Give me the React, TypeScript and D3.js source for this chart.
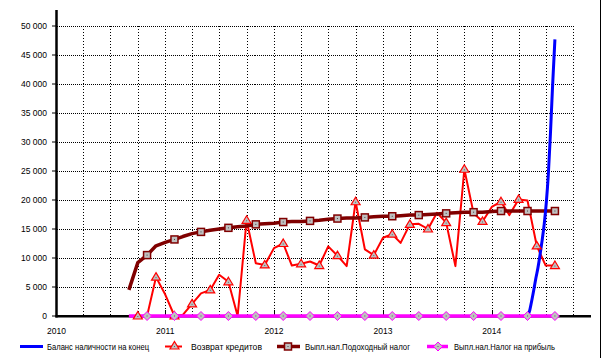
import React from 'react';
import * as d3 from 'd3';

const months = [
  "2010-09","2010-10","2010-11","2010-12",
  "2011-01","2011-02","2011-03","2011-04","2011-05","2011-06","2011-07","2011-08","2011-09","2011-10","2011-11","2011-12",
  "2012-01","2012-02","2012-03","2012-04","2012-05","2012-06","2012-07","2012-08","2012-09","2012-10","2012-11","2012-12",
  "2013-01","2013-02","2013-03","2013-04","2013-05","2013-06","2013-07","2013-08","2013-09","2013-10","2013-11","2013-12",
  "2014-01","2014-02","2014-03","2014-04","2014-05","2014-06","2014-07","2014-08"
];

const creditReturn = [
  0, 0, 0, 6700,
  3700, 0, 200, 2100, 3900, 4500, 7100, 5900, 0, 16500, 9100, 8800,
  11700, 12500, 8700, 9000, 9400, 8700, 12000, 10400, 8600, 19700, 11500, 10500,
  13500, 14100, 12600, 15800, 15900, 15000, 17800, 16100, 8600, 25300, 17700, 16300,
  18800, 19700, 17400, 20100, 19900, 12100, 8700, 8700
];

const incomeTax = [
  4500, 9200, 10500, 12100,
  12700, 13200, 13700, 14200, 14500, 14800, 15000, 15200, 15400, 15500, 15800, 15900,
  16000, 16200, 16300, 16300, 16400, 16500, 16700, 16800, 16900, 16900, 17000, 17100,
  17200, 17200, 17300, 17400, 17400, 17500, 17600, 17700, 17800, 17900, 17900, 17900,
  18000, 18100, 18100, 18100, 18100, 18100, 18100, 18100
];

const profitTax = [
  0, 0, 0, 0,
  0, 0, 0, 0, 0, 0, 0, 0, 0, 0, 0, 0,
  0, 0, 0, 0, 0, 0, 0, 0, 0, 0, 0, 0,
  0, 0, 0, 0, 0, 0, 0, 0, 0, 0, 0, 0,
  0, 0, 0, 0, 0, 0, 0, 0
];

const balanceDates = [
  "2014-05-01","2014-05-08","2014-05-15","2014-05-22","2014-05-29","2014-06-05","2014-06-12",
  "2014-06-19","2014-06-26","2014-07-03","2014-07-10","2014-07-17","2014-07-24","2014-08-01"
];
const balanceValues = [0, 900, 2600, 4500, 6500, 8300, 10500, 13000, 15800, 19500, 24500, 31500, 39500, 47700];

const yTicks = [0, 5000, 10000, 15000, 20000, 25000, 30000, 35000, 40000, 45000, 50000];
const yearLabels = ["2010", "2011", "2012", "2013", "2014"];
const legendLabels = [
  "Баланс наличности на конец",
  "Возврат кредитов",
  "Выпл.нал.Подоходный налог",
  "Выпл.нал.Налог на прибыль"
];

const W = 601, H = 358;
const X0 = 56.5, YEAR = 108.8;
const FONT = "'Liberation Sans', Arial, sans-serif";

const parseM = d3.timeParse("%Y-%m");
const parseD = d3.timeParse("%Y-%m-%d");

const x = d3.scaleTime()
  .domain([new Date(2010, 0, 1), new Date(2015, 0, 1)])
  .range([X0, X0 + 5 * YEAR]);
const y = d3.scaleLinear().domain([0, 50000]).range([316, 26]);

const fmt = d3.formatLocale({ thousands: "\u00a0", grouping: [3], decimal: ",", currency: ["", ""] }).format(",");

type P = { date: Date; v: number };
const mk = (vals: number[]): P[] => vals.map((v, i) => ({ date: parseM(months[i])!, v }));
const redData = mk(creditReturn);
const brownData = mk(incomeTax);
const magentaData = mk(profitTax);
const blueData: P[] = balanceDates.map((d, i) => ({ date: parseD(d)!, v: balanceValues[i] }));

const line = d3.line<P>().x(d => x(d.date)).y(d => y(d.v));
const smooth = d3.line<P>().x(d => x(d.date)).y(d => y(d.v)).curve(d3.curveMonotoneX);

const Tri = ({ cx, cy }: { cx: number; cy: number }) => (
  <g>
    <path d={`M${cx},${cy - 4.5}L${cx + 4.5},${cy + 3}L${cx - 4.5},${cy + 3}Z`} fill="#c0c0c0" stroke="#ff0000" strokeWidth={1.2} />
    <rect x={cx - 0.5} y={cy} width={1} height={1} fill="#606060" />
  </g>
);
const Sq = ({ cx, cy }: { cx: number; cy: number }) => (
  <g>
    <rect x={cx - 3.5} y={cy - 3.5} width={7} height={7} fill="#c0c0c0" stroke="#800000" strokeWidth={1.5} />
    <rect x={cx - 0.5} y={cy - 0.5} width={1} height={1} fill="#404040" />
  </g>
);
const Dia = ({ cx, cy }: { cx: number; cy: number }) => (
  <g>
    <path d={`M${cx},${cy - 4.5}L${cx + 4.5},${cy}L${cx},${cy + 4.5}L${cx - 4.5},${cy}Z`} fill="#c0c0c0" stroke="#ff00ff" strokeWidth={1} />
    <rect x={cx - 0.5} y={cy - 0.5} width={1} height={1} fill="#606060" />
  </g>
);

export default function App() {
  const gridDates = d3.timeMonth.every(3)!.range(new Date(2010, 3, 1), new Date(2014, 10, 1));
  const years = yearLabels.map(s => new Date(+s, 0, 1));
  const last = redData.length - 1;
  const legendX = [20, 165, 277, 427];
  const legendTextX = [47, 191, 305, 454];
  const legendTextW = [102, 71, 105, 101];
  const ly = 346.5;
  return (
    <svg width={W} height={H} style={{ position: 'absolute', left: 0, top: 0, background: '#fff' }} fontFamily={FONT}>
      <rect width={W} height={H} fill="#fff" />
      {yTicks.filter(t => t > 0).map(t => (
        <line key={'h' + t} x1={X0} x2={x(new Date(2014, 9, 1))} y1={y(t)} y2={y(t)} stroke="#000" strokeWidth={1} strokeDasharray="1,1" shapeRendering="crispEdges" />
      ))}
      {gridDates.map((d, i) => (
        <line key={'v' + i} x1={Math.round(x(d)) + 0.5} x2={Math.round(x(d)) + 0.5} y1={y(50000)} y2={y(0)} stroke="#000" strokeWidth={1} strokeDasharray="1,2" shapeRendering="crispEdges" />
      ))}
      {years.slice(1).map((d, i) => (
        <line key={'yt' + i} x1={Math.round(x(d)) + 0.5} x2={Math.round(x(d)) + 0.5} y1={310} y2={316} stroke="#000" strokeWidth={1} />
      ))}
      <line x1={X0} x2={X0} y1={10} y2={317.5} stroke="#000" strokeWidth={2.5} />
      <line x1={X0 - 1} x2={591} y1={316.3} y2={316.3} stroke="#000" strokeWidth={2.6} />
      {yTicks.map(t => (
        <g key={'yl' + t}>
          <line x1={52} x2={X0} y1={y(t)} y2={y(t)} stroke="#000" strokeWidth={1} />
          <text x={47} y={y(t) + 3} fontSize={8.5} textAnchor="end" fill="#000">{fmt(t)}</text>
        </g>
      ))}
      {years.map((d, i) => (
        <text key={'xl' + i} x={x(d)} y={334} fontSize={8.5} textAnchor="middle" fill="#000">{yearLabels[i]}</text>
      ))}
      <path d={line(redData)!} fill="none" stroke="#ff0000" strokeWidth={2} strokeLinejoin="round" />
      <path d={line(brownData)!} fill="none" stroke="#800000" strokeWidth={3.5} strokeLinejoin="round" />
      <path d={smooth(blueData)!} fill="none" stroke="#0000ff" strokeWidth={3} strokeLinejoin="round" />
      <path d={line(magentaData)!} fill="none" stroke="#ff00ff" strokeWidth={3.5} />
      {redData.map((d, i) => (last - i) % 2 === 0 ? <Tri key={'rt' + i} cx={x(d.date)} cy={y(d.v)} /> : null)}
      {brownData.map((d, i) => (last - i) % 3 === 0 ? <Sq key={'bs' + i} cx={x(d.date)} cy={y(d.v)} /> : null)}
      {magentaData.map((d, i) => (last - i) % 3 === 0 ? <Dia key={'md' + i} cx={x(d.date)} cy={y(d.v)} /> : null)}
      <line x1={600.5} x2={600.5} y1={0} y2={H} stroke="#000" strokeWidth={1} />
      <line x1={legendX[0]} x2={legendX[0] + 23} y1={ly} y2={ly} stroke="#0000ff" strokeWidth={3} />
      <line x1={legendX[1]} x2={legendX[1] + 17} y1={ly} y2={ly} stroke="#ff0000" strokeWidth={2} />
      <Tri cx={legendX[1] + 9.5} cy={ly - 0.5} />
      <line x1={legendX[2]} x2={legendX[2] + 23} y1={ly} y2={ly} stroke="#800000" strokeWidth={3.5} />
      <Sq cx={legendX[2] + 11} cy={ly} />
      <line x1={legendX[3]} x2={legendX[3] + 21} y1={ly} y2={ly} stroke="#ff00ff" strokeWidth={3.5} />
      <Dia cx={legendX[3] + 11} cy={ly} />
      {legendLabels.map((s, i) => (
        <text key={'lg' + i} x={legendTextX[i]} y={349.5} fontSize={8.5} fill="#000" textLength={legendTextW[i]} lengthAdjust="spacingAndGlyphs">{s}</text>
      ))}
    </svg>
  );
}
